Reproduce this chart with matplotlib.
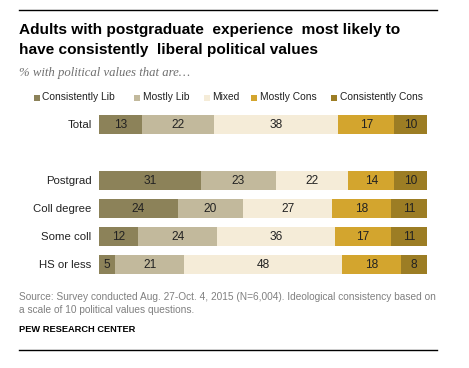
import matplotlib
matplotlib.use("Agg")
import matplotlib.pyplot as plt

categories = ["Total", "Postgrad", "Coll degree", "Some coll", "HS or less"]
series_names = ["Consistently Lib", "Mostly Lib", "Mixed", "Mostly Cons", "Consistently Cons"]
consistently_lib = [13, 31, 24, 12, 5]
mostly_lib = [22, 23, 20, 24, 21]
mixed = [38, 22, 27, 36, 48]
mostly_cons = [17, 14, 18, 17, 18]
consistently_cons = [10, 10, 11, 11, 8]

colors = ["#8C8259", "#C2B99C", "#F5ECD8", "#D3A52E", "#9C7D24"]
positions = [0, 2, 3, 4, 5]

W, H = 469, 368
fig = plt.figure(figsize=(W / 100, H / 100), dpi=100)
plt.rcParams['font.family'] = ['Liberation Sans', 'DejaVu Sans']

def fx(px):
    return px / W

def fy(py):
    return 1 - py / H

# top and bottom rules
fig.add_artist(plt.Line2D([fx(19), fx(437)], [fy(9.5), fy(9.5)], color="black", lw=1))
fig.add_artist(plt.Line2D([fx(19), fx(437)], [fy(350), fy(350)], color="black", lw=1))

fig.text(fx(19), fy(30), "Adults with postgraduate  experience  most likely to",
         fontsize=11.1, fontweight="bold", va="center", ha="left", color="black")
fig.text(fx(19), fy(50), "have consistently  liberal political values",
         fontsize=11.1, fontweight="bold", va="center", ha="left", color="black")
fig.text(fx(19), fy(73), "% with political values that are\u2026",
         fontsize=9.2, style="italic", family=["Liberation Serif", "DejaVu Serif"],
         va="center", ha="left", color="#6F6F6F")

# legend
legend_x = [34, 134, 204, 251, 331]
for lx, name, c in zip(legend_x, series_names, colors):
    fig.patches.append(plt.Rectangle((fx(lx), fy(100.5)), 6 / W, 6 / H, transform=fig.transFigure,
                                     facecolor=c, edgecolor="none"))
    fig.text(fx(lx + 8.5), fy(97.5), name, fontsize=7.4, va="center", ha="left", color="#222222")

ax = fig.add_axes([fx(99), fy(278.5), 328 / W, 168 / H])
data = [consistently_lib, mostly_lib, mixed, mostly_cons, consistently_cons]
left = [0] * len(categories)
for vals, c in zip(data, colors):
    ax.barh(positions, vals, left=left, height=0.68, color=c, edgecolor="none")
    for p, v, l in zip(positions, vals, left):
        ax.text(l + v / 2, p, str(v), ha="center", va="center", fontsize=8.6, color="#222222")
    left = [a + b for a, b in zip(left, vals)]

ax.set_xlim(0, 100)
ax.set_ylim(5.5, -0.5)
ax.axis("off")
for p, cat in zip(positions, categories):
    ax.text(-2.3, p, cat, ha="right", va="center", fontsize=8.2, color="#222222")

fig.text(fx(19), fy(297), "Source: Survey conducted Aug. 27-Oct. 4, 2015 (N=6,004). Ideological consistency based on",
         fontsize=7.3, va="center", ha="left", color="#808080")
fig.text(fx(19), fy(310), "a scale of 10 political values questions.",
         fontsize=7.3, va="center", ha="left", color="#808080")
fig.text(fx(19), fy(330), "PEW RESEARCH CENTER", fontsize=6.7, fontweight="bold",
         va="center", ha="left", color="black")

fig.savefig("out.png", dpi=100)
